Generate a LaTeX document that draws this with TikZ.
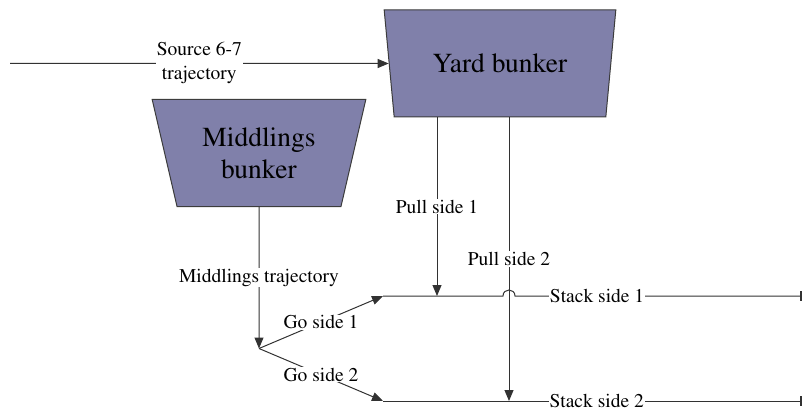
\documentclass[tikz,border=0pt]{standalone}
\usepackage[T1]{fontenc}
\renewcommand{\rmdefault}{ptm}
\usetikzlibrary{arrows.meta,shapes.geometric}

\definecolor{lineg}{RGB}{50,50,50}
\definecolor{bordg}{RGB}{60,60,60}
\definecolor{bunkerfill}{RGB}{128,128,170}

\begin{document}
\begin{tikzpicture}[x=1pt,y=-1pt,
  line/.style={draw=lineg, line width=1pt},
  flow/.style={line, -{Triangle[length=11pt,width=9pt]}},
  stackline/.style={line, -{Bar[width=10pt,line width=1.6pt]}},
  bunker/.style={trapezium, trapezium stretches=true, shape border rotate=180,
    trapezium left angle=71.4, trapezium right angle=71.4,
    draw=bordg, fill=bunkerfill, line width=1pt, minimum height=107pt,
    inner sep=0pt, align=center, font={\rmfamily\fontsize{27.5}{32}\selectfont}},
  lbl/.style={fill=white, inner sep=1pt, align=center,
    font={\rmfamily\fontsize{19.5}{24}\selectfont}}]

\useasboundingbox (0,0) rectangle (803,409);

% bunkers
\node[bunker, minimum width=232pt] (yard) at (500,63.5) {Yard bunker};
\node[bunker, minimum width=214pt] (mid) at (259,153) {Middlings\\bunker};

% junction points
\coordinate (src)  at (10,63.5);
\coordinate (p1a)  at (437,117);
\coordinate (p2a)  at (509,117);
\coordinate (p1b)  at (437,296);
\coordinate (p2b)  at (509,401);
\coordinate (split) at (259,348.5);
\coordinate (s1a)  at (383,296);
\coordinate (s1b)  at (802,296);
\coordinate (s2a)  at (383,401);
\coordinate (s2b)  at (802,401);
\coordinate (hopL) at (503,296);
\coordinate (hopR) at (515,296);

% incoming source
\draw[flow] (src) -- node[lbl]{Source 6-7\\trajectory} (yard.west);

% middlings trajectory and split
\draw[flow] (mid.south) -- node[lbl]{Middlings trajectory} (split);
\draw[flow] (split) -- node[lbl]{Go side 1} (s1a);
\draw[flow] (split) -- node[lbl]{Go side 2} (s2a);

% pulls from the yard bunker
\draw[flow] (p1a) -- node[lbl]{Pull side 1} (p1b);
\draw[flow] (p2a) -- node[lbl]{Pull side 2} (p2b);

% stacking lines
\draw[stackline] (s1a) -- (hopL) .. controls (503,288) and (515,288) .. (hopR)
  -- node[lbl, pos=0.286]{Stack side 1} (s1b);
\draw[stackline] (s2a) -- node[lbl, pos=0.51]{Stack side 2} (s2b);
\end{tikzpicture}
\end{document}
